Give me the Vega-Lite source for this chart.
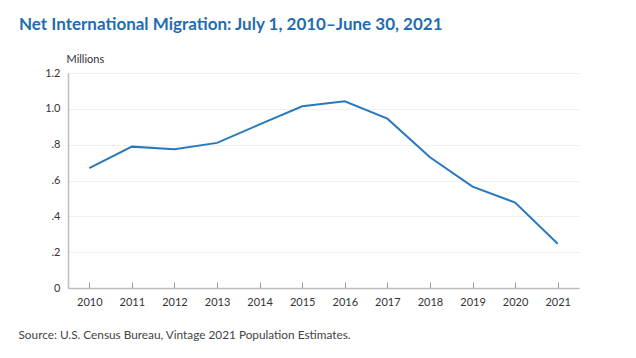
{
  "$schema": "https://vega.github.io/schema/vega-lite/v6.json",
  "width": 511,
  "height": 215,
  "autosize": {"type": "none"},
  "padding": {"left": 68, "top": 73, "right": 57, "bottom": 70},
  "background": "white",
  "title": {
    "text": "Net International Migration: July 1, 2010–June 30, 2021",
    "anchor": "start",
    "frame": "group",
    "dx": -49,
    "fontSize": 17,
    "fontWeight": "bold",
    "font": "Lato",
    "color": "#1f6db0",
    "offset": 19
  },
  "data": {
    "values": [
      {"year": "2010", "value": 0.669},
      {"year": "2011", "value": 0.789},
      {"year": "2012", "value": 0.775},
      {"year": "2013", "value": 0.810},
      {"year": "2014", "value": 0.913},
      {"year": "2015", "value": 1.014},
      {"year": "2016", "value": 1.042},
      {"year": "2017", "value": 0.945},
      {"year": "2018", "value": 0.730},
      {"year": "2019", "value": 0.566},
      {"year": "2020", "value": 0.477},
      {"year": "2021", "value": 0.247}
    ]
  },
  "mark": {"type": "line", "color": "#2a78bd", "strokeWidth": 2},
  "encoding": {
    "x": {
      "field": "year",
      "type": "ordinal",
      "scale": {"type": "point", "padding": 0.5},
      "axis": {
        "title": "Source: U.S. Census Bureau, Vintage 2021 Population Estimates.",
        "titleX": -50,
        "titleY": 50,
        "titleAlign": "left",
        "titleAnchor": null,
        "titleBaseline": "alphabetic",
        "titleFont": "Lato",
        "titleFontSize": 11.8,
        "titleFontWeight": "normal",
        "titleColor": "#444444",
        "labelAngle": 0,
        "labelFont": "Lato",
        "labelFontSize": 11,
        "labelColor": "#333333",
        "labelPadding": 14,
        "tickSize": -6,
        "tickColor": "#999999",
        "domainColor": "#bdbdbd",
        "domainWidth": 1.5,
        "grid": false
      }
    },
    "y": {
      "field": "value",
      "type": "quantitative",
      "scale": {"domain": [0, 1.2], "nice": false},
      "axis": {
        "title": "Millions",
        "titleAngle": 0,
        "titleX": -2,
        "titleY": -14,
        "titleAlign": "left",
        "titleBaseline": "middle",
        "titleFont": "Lato",
        "titleFontSize": 11,
        "titleFontWeight": "normal",
        "titleColor": "#333333",
        "values": [0, 0.2, 0.4, 0.6, 0.8, 1.0, 1.2],
        "labelExpr": "datum.value == 0 ? '0' : replace(format(datum.value, '.1f'), '0.', '.')",
        "labelFont": "Lato",
        "labelFontSize": 11,
        "labelColor": "#333333",
        "labelPadding": 8,
        "ticks": false,
        "domainColor": "#bdbdbd",
        "domainWidth": 1.5,
        "grid": true,
        "gridColor": "#efefef",
        "gridWidth": 1
      }
    }
  },
  "config": {"view": {"stroke": null}}
}
